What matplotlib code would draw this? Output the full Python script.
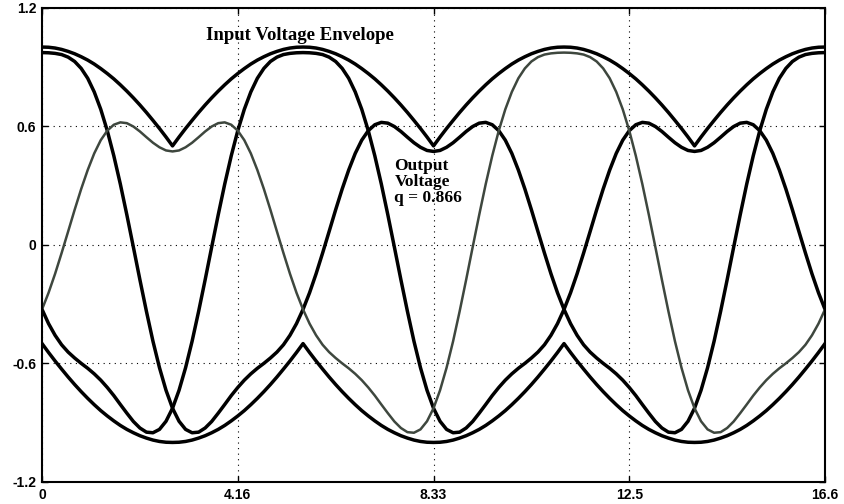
import numpy as np
import matplotlib.pyplot as plt

# time axis in ms, one input cycle (60 Hz) sampled every 3 electrical degrees
t_ms = np.linspace(0, 16.667, 121)

# input voltage envelope (upper / lower), p.u.
upper_env = [1.0, 0.999, 0.995, 0.988, 0.978, 0.966, 0.951, 0.934, 0.914, 0.891,
             0.866, 0.839, 0.809, 0.777, 0.743, 0.707, 0.669, 0.629, 0.588, 0.545,
             0.5, 0.545, 0.588, 0.629, 0.669, 0.707, 0.743, 0.777, 0.809, 0.839,
             0.866, 0.891, 0.914, 0.934, 0.951, 0.966, 0.978, 0.988, 0.995, 0.999,
             1.0, 0.999, 0.995, 0.988, 0.978, 0.966, 0.951, 0.934, 0.914, 0.891,
             0.866, 0.839, 0.809, 0.777, 0.743, 0.707, 0.669, 0.629, 0.588, 0.545,
             0.5, 0.545, 0.588, 0.629, 0.669, 0.707, 0.743, 0.777, 0.809, 0.839,
             0.866, 0.891, 0.914, 0.934, 0.951, 0.966, 0.978, 0.988, 0.995, 0.999,
             1.0, 0.999, 0.995, 0.988, 0.978, 0.966, 0.951, 0.934, 0.914, 0.891,
             0.866, 0.839, 0.809, 0.777, 0.743, 0.707, 0.669, 0.629, 0.588, 0.545,
             0.5, 0.545, 0.588, 0.629, 0.669, 0.707, 0.743, 0.777, 0.809, 0.839,
             0.866, 0.891, 0.914, 0.934, 0.951, 0.966, 0.978, 0.988, 0.995, 0.999,
             1.0]
lower_env = [-0.5, -0.545, -0.588, -0.629, -0.669, -0.707, -0.743, -0.777, -0.809, -0.839,
             -0.866, -0.891, -0.914, -0.934, -0.951, -0.966, -0.978, -0.988, -0.995, -0.999,
             -1.0, -0.999, -0.995, -0.988, -0.978, -0.966, -0.951, -0.934, -0.914, -0.891,
             -0.866, -0.839, -0.809, -0.777, -0.743, -0.707, -0.669, -0.629, -0.588, -0.545,
             -0.5, -0.545, -0.588, -0.629, -0.669, -0.707, -0.743, -0.777, -0.809, -0.839,
             -0.866, -0.891, -0.914, -0.934, -0.951, -0.966, -0.978, -0.988, -0.995, -0.999,
             -1.0, -0.999, -0.995, -0.988, -0.978, -0.966, -0.951, -0.934, -0.914, -0.891,
             -0.866, -0.839, -0.809, -0.777, -0.743, -0.707, -0.669, -0.629, -0.588, -0.545,
             -0.5, -0.545, -0.588, -0.629, -0.669, -0.707, -0.743, -0.777, -0.809, -0.839,
             -0.866, -0.891, -0.914, -0.934, -0.951, -0.966, -0.978, -0.988, -0.995, -0.999,
             -1.0, -0.999, -0.995, -0.988, -0.978, -0.966, -0.951, -0.934, -0.914, -0.891,
             -0.866, -0.839, -0.809, -0.777, -0.743, -0.707, -0.669, -0.629, -0.588, -0.545,
             -0.5]

# output phase voltages, q = 0.866
out_a = [0.972, 0.971, 0.968, 0.962, 0.949, 0.927, 0.892, 0.842, 0.773, 0.685,
         0.577, 0.450, 0.307, 0.151, -0.012, -0.177, -0.337, -0.488, -0.622, -0.736,
         -0.827, -0.893, -0.934, -0.951, -0.948, -0.927, -0.894, -0.852, -0.808, -0.763,
         -0.722, -0.685, -0.653, -0.625, -0.600, -0.573, -0.543, -0.506, -0.458, -0.399,
         -0.327, -0.243, -0.147, -0.042, 0.067, 0.177, 0.282, 0.378, 0.462, 0.529,
         0.577, 0.607, 0.619, 0.615, 0.598, 0.573, 0.544, 0.516, 0.493, 0.477,
         0.472,
         0.477, 0.493, 0.516, 0.544, 0.573, 0.598, 0.615, 0.619, 0.607, 0.577,
         0.529, 0.462, 0.378, 0.282, 0.177, 0.067, -0.042, -0.147, -0.243, -0.327,
         -0.399, -0.458, -0.506, -0.543, -0.573, -0.600, -0.625, -0.653, -0.685, -0.722,
         -0.763, -0.808, -0.852, -0.894, -0.927, -0.948, -0.951, -0.934, -0.893, -0.827,
         -0.736, -0.622, -0.488, -0.337, -0.177, -0.012, 0.151, 0.307, 0.450, 0.577,
         0.685, 0.773, 0.842, 0.892, 0.927, 0.949, 0.962, 0.968, 0.971, 0.972]
out_b = [-0.327, -0.243, -0.147, -0.042, 0.067, 0.177, 0.282, 0.378, 0.462, 0.529,
         0.577, 0.607, 0.619, 0.615, 0.598, 0.573, 0.544, 0.516, 0.493, 0.477,
         0.472,
         0.477, 0.493, 0.516, 0.544, 0.573, 0.598, 0.615, 0.619, 0.607, 0.577,
         0.529, 0.462, 0.378, 0.282, 0.177, 0.067, -0.042, -0.147, -0.243, -0.327,
         -0.399, -0.458, -0.506, -0.543, -0.573, -0.600, -0.625, -0.653, -0.685, -0.722,
         -0.763, -0.808, -0.852, -0.894, -0.927, -0.948, -0.951, -0.934, -0.893, -0.827,
         -0.736, -0.622, -0.488, -0.337, -0.177, -0.012, 0.151, 0.307, 0.450, 0.577,
         0.685, 0.773, 0.842, 0.892, 0.927, 0.949, 0.962, 0.968, 0.971, 0.972,
         0.971, 0.968, 0.962, 0.949, 0.927, 0.892, 0.842, 0.773, 0.685, 0.577,
         0.450, 0.307, 0.151, -0.012, -0.177, -0.337, -0.488, -0.622, -0.736, -0.827,
         -0.893, -0.934, -0.951, -0.948, -0.927, -0.894, -0.852, -0.808, -0.763, -0.722,
         -0.685, -0.653, -0.625, -0.600, -0.573, -0.543, -0.506, -0.458, -0.399, -0.327]
out_c = [-0.327,
         -0.399, -0.458, -0.506, -0.543, -0.573, -0.600, -0.625, -0.653, -0.685, -0.722,
         -0.763, -0.808, -0.852, -0.894, -0.927, -0.948, -0.951, -0.934, -0.893, -0.827,
         -0.736, -0.622, -0.488, -0.337, -0.177, -0.012, 0.151, 0.307, 0.450, 0.577,
         0.685, 0.773, 0.842, 0.892, 0.927, 0.949, 0.962, 0.968, 0.971, 0.972,
         0.971, 0.968, 0.962, 0.949, 0.927, 0.892, 0.842, 0.773, 0.685, 0.577,
         0.450, 0.307, 0.151, -0.012, -0.177, -0.337, -0.488, -0.622, -0.736, -0.827,
         -0.893, -0.934, -0.951, -0.948, -0.927, -0.894, -0.852, -0.808, -0.763, -0.722,
         -0.685, -0.653, -0.625, -0.600, -0.573, -0.543, -0.506, -0.458, -0.399, -0.327,
         -0.243, -0.147, -0.042, 0.067, 0.177, 0.282, 0.378, 0.462, 0.529, 0.577,
         0.607, 0.619, 0.615, 0.598, 0.573, 0.544, 0.516, 0.493, 0.477, 0.472,
         0.477, 0.493, 0.516, 0.544, 0.573, 0.598, 0.615, 0.619, 0.607, 0.577,
         0.529, 0.462, 0.378, 0.282, 0.177, 0.067, -0.042, -0.147, -0.243, -0.327]

x_ticks = [0, 4.1667, 8.3333, 12.5, 16.6667]
x_labels = ['0', '4.16', '8.33', '12.5', '16.6']
y_ticks = [-1.2, -0.6, 0, 0.6, 1.2]
y_labels = ['-1.2', '-0.6', '0', '0.6', '1.2']

fig = plt.figure(figsize=(8.44, 5.04), dpi=100)
ax = fig.add_axes([0.0498, 0.0437, 0.9277, 0.9414])

black = dict(color='black', lw=2.5, solid_joinstyle='round')
ax.plot(t_ms, upper_env, **black)
ax.plot(t_ms, lower_env, **black)
ax.plot(t_ms, out_a, **black)
ax.plot(t_ms, out_c, **black)
ax.plot(t_ms, out_b, color='#3e473e', lw=1.8, solid_joinstyle='round')

ax.set_xlim(0, 16.6667)
ax.set_ylim(-1.2, 1.2)
ax.set_xticks(x_ticks)
ax.set_xticklabels(x_labels)
ax.set_yticks(y_ticks)
ax.set_yticklabels(y_labels)
ax.tick_params(direction='in', length=4, width=1, top=True, right=True, pad=4,
               labelsize=10)
for lab in ax.get_xticklabels() + ax.get_yticklabels():
    lab.set_fontweight('bold')
    lab.set_family('Liberation Sans')
ax.grid(True, color='black', linestyle=(0, (1, 4)), linewidth=0.8)
for sp in ax.spines.values():
    sp.set_linewidth(1.5)

ax.text(3.5, 1.035, 'Input Voltage Envelope', family='Liberation Serif',
        fontweight='bold', fontsize=13.5, va='baseline')
serif = dict(family='Liberation Serif', fontweight='bold', fontsize=12.5, va='baseline')
ax.text(7.5, 0.378, 'Output', **serif)
ax.text(7.5, 0.297, 'Voltage', **serif)
ax.text(7.5, 0.216, 'q = 0.866', **serif)

fig.savefig('out.png', dpi=100)
